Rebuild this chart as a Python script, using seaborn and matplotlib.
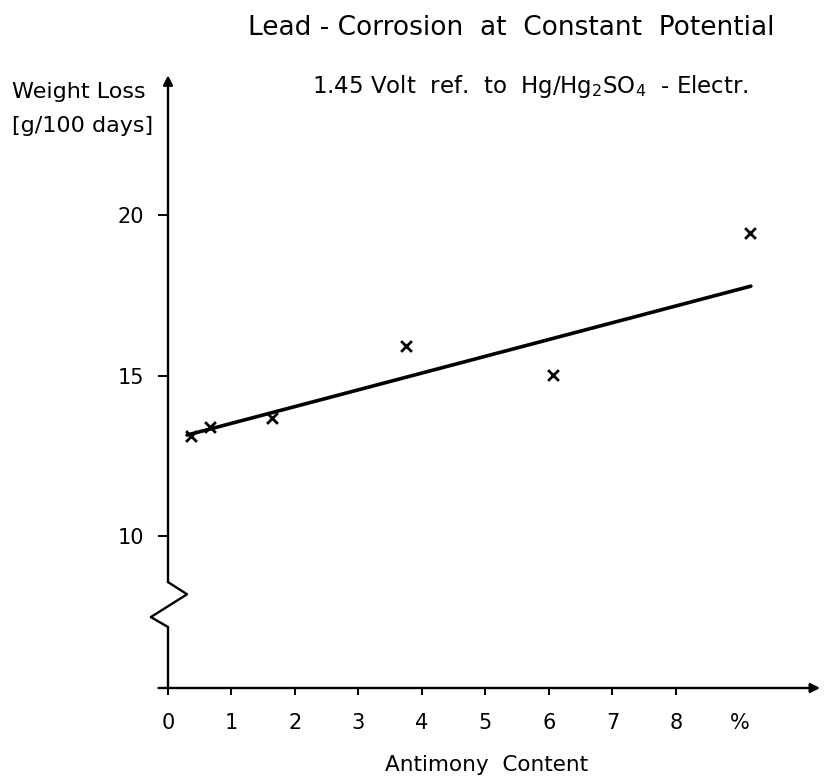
import numpy as np
import matplotlib
matplotlib.use("Agg")
import matplotlib.pyplot as plt
import seaborn as sns

# measured points (antimony %, weight loss g/100 days)
antimony = [0.36, 0.66, 1.64, 3.75, 6.07, 9.17]
weight_loss = [13.12, 13.40, 13.67, 15.92, 15.02, 19.44]

# trend line end points
line_x = [0.30, 9.18]
line_y = [13.15, 17.79]

x_ticks = [0, 1, 2, 3, 4, 5, 6, 7, 8, 9]
x_labels = ["0", "1", "2", "3", "4", "5", "6", "7", "8", "%"]
y_ticks = [10, 15, 20]

sns.set_style("white")
plt.rcParams["font.family"] = ["DejaVu Sans"]
plt.rcParams["text.color"] = "black"
plt.rcParams["xtick.color"] = "black"
plt.rcParams["ytick.color"] = "black"

fig = plt.figure(figsize=(8.26, 7.8), dpi=100)
ax = fig.add_axes([168 / 826, 92 / 780, 654 / 826, 614 / 780])
ax.set_xlim(0, 10.3)
ax.set_ylim(5.27, 24.4)

sns.lineplot(x=line_x, y=line_y, ax=ax, color="black", linewidth=2.6)
sns.scatterplot(x=antimony, y=weight_loss, ax=ax, marker="x", color="black",
                s=60, linewidth=2.0)

for s in ax.spines.values():
    s.set_visible(False)

y0 = 5.27
# y axis with the break
ax.plot([0, 0], [y0, 7.17], color="black", lw=1.7, clip_on=False)
ax.plot([0, -0.27, 0.30, 0], [7.17, 7.48, 8.19, 8.57], color="black", lw=1.7,
        clip_on=False)
ax.annotate("", xy=(0, 24.36), xytext=(0, 8.57),
            arrowprops=dict(arrowstyle="-|>", color="black", lw=1.7,
                            mutation_scale=14, shrinkA=0, shrinkB=0),
            annotation_clip=False)
# x axis
ax.annotate("", xy=(10.27, y0), xytext=(-0.15, y0),
            arrowprops=dict(arrowstyle="-|>", color="black", lw=1.7,
                            mutation_scale=14, shrinkA=0, shrinkB=0),
            annotation_clip=False)

ax.set_xticks(x_ticks)
ax.set_xticklabels(x_labels, fontsize=15)
ax.set_yticks(y_ticks)
ax.set_yticklabels([str(v) for v in y_ticks], fontsize=15)
ax.tick_params(axis="x", direction="out", length=5, width=1.4, pad=13,
               bottom=True)
ax.tick_params(axis="y", direction="out", length=7, width=1.4, pad=10,
               left=True)
ax.xaxis.get_major_ticks()[-1].tick1line.set_visible(False)
ax.set_xlabel("")
ax.set_ylabel("")

fig.text(511 / 826, 1 - 28 / 780, "Lead - Corrosion  at  Constant  Potential",
         ha="center", va="center", fontsize=19)
fig.text(530 / 826, 1 - 86 / 780,
         r"1.45 Volt  ref.  to  Hg/Hg$_2$SO$_4$  - Electr.",
         ha="center", va="center", fontsize=16.5)
fig.text(12 / 826, 1 - 92 / 780, "Weight Loss", ha="left", va="center",
         fontsize=16)
fig.text(12 / 826, 1 - 126 / 780, "[g/100 days]", ha="left", va="center",
         fontsize=16)
fig.text(487 / 826, 1 - 765 / 780, "Antimony  Content", ha="center",
         va="center", fontsize=15.5)

fig.savefig("out.png", dpi=100, facecolor="white")
